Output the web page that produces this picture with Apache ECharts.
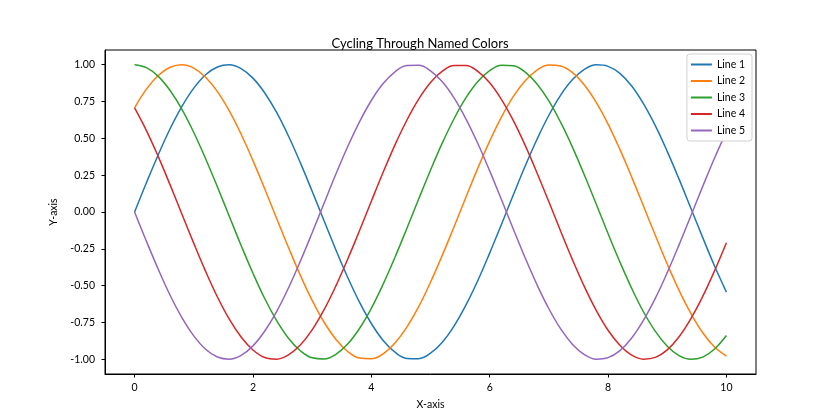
<!DOCTYPE html>
<html><head><meta charset="utf-8">
<script src="https://cdn.jsdelivr.net/npm/echarts@6/dist/echarts.min.js"></script>
<style>html,body{margin:0;padding:0;background:#fff}#c{width:840px;height:420px}</style>
</head><body><div id="c"></div>
<script>
const titleText = 'Cycling Through Named Colors';
const xLabel = 'X-axis';
const yLabel = 'Y-axis';
const seriesNames = ['Line 1','Line 2','Line 3','Line 4','Line 5'];
const xTicks = [0,2,4,6,8,10];
const yTicks = [-1,-0.75,-0.5,-0.25,0,0.25,0.5,0.75,1];
const xs = [0,0.2,0.4,0.6,0.8,1,1.2,1.4,1.6,1.8,2,2.2,2.4,2.6,2.8,3,3.2,3.4,3.6,3.8,4,4.2,4.4,4.6,4.8,5,5.2,5.4,5.6,5.8,6,6.2,6.4,6.6,6.8,7,7.2,7.4,7.6,7.8,8,8.2,8.4,8.6,8.8,9,9.2,9.4,9.6,9.8,10];
const line1 = [0,0.199,0.389,0.565,0.717,0.841,0.932,0.985,1.000,0.974,0.909,0.808,0.676,0.516,0.335,0.141,-0.058,-0.256,-0.443,-0.612,-0.757,-0.872,-0.952,-0.994,-0.996,-0.959,-0.884,-0.773,-0.631,-0.465,-0.279,-0.083,0.117,0.312,0.494,0.657,0.794,0.899,0.968,0.999,0.989,0.941,0.855,0.734,0.585,0.412,0.223,0.025,-0.174,-0.367,-0.544];
const line2 = [0.707,0.834,0.927,0.983,1.000,0.977,0.915,0.817,0.686,0.528,0.349,0.156,-0.044,-0.241,-0.429,-0.600,-0.747,-0.864,-0.947,-0.992,-0.997,-0.963,-0.890,-0.782,-0.643,-0.477,-0.293,-0.098,0.102,0.298,0.481,0.646,0.785,0.892,0.964,0.998,0.991,0.946,0.862,0.744,0.597,0.425,0.237,0.039,-0.160,-0.353,-0.532,-0.689,-0.820,-0.917,-0.978];
const line3 = [1.000,0.980,0.921,0.825,0.697,0.540,0.362,0.170,-0.029,-0.227,-0.416,-0.589,-0.737,-0.857,-0.942,-0.990,-0.998,-0.967,-0.897,-0.791,-0.654,-0.490,-0.307,-0.112,0.088,0.284,0.469,0.635,0.776,0.886,0.960,0.997,0.993,0.950,0.869,0.754,0.608,0.439,0.251,0.054,-0.146,-0.339,-0.519,-0.679,-0.811,-0.911,-0.975,-1.000,-0.985,-0.930,-0.839];
const line4 = [0.707,0.553,0.376,0.184,-0.015,-0.213,-0.403,-0.577,-0.728,-0.849,-0.937,-0.988,-0.999,-0.970,-0.903,-0.800,-0.665,-0.503,-0.321,-0.127,0.073,0.270,0.456,0.623,0.766,0.879,0.956,0.995,0.995,0.955,0.877,0.763,0.620,0.452,0.265,0.069,-0.131,-0.325,-0.507,-0.668,-0.803,-0.905,-0.972,-0.999,-0.987,-0.936,-0.847,-0.724,-0.573,-0.399,-0.209];
const line5 = [0,-0.199,-0.389,-0.565,-0.717,-0.841,-0.932,-0.985,-1.000,-0.974,-0.909,-0.808,-0.676,-0.516,-0.335,-0.141,0.058,0.256,0.443,0.612,0.757,0.872,0.952,0.994,0.996,0.959,0.884,0.773,0.631,0.465,0.279,0.083,-0.117,-0.312,-0.494,-0.657,-0.794,-0.899,-0.968,-0.999,-0.989,-0.941,-0.855,-0.734,-0.585,-0.412,-0.223,-0.025,0.174,0.367,0.544];
const allLines = [line1,line2,line3,line4,line5];
const colors = ['#1f77b4','#ff7f0e','#2ca02c','#d62728','#9467bd'];
const FONT = 'Lato';

const chart = echarts.init(document.getElementById('c'), null, {renderer:'canvas'});
chart.setOption({
  animation:false,
  backgroundColor:'#fff',
  title:{text:titleText,left:'center',top:32,textStyle:{fontFamily:FONT,fontSize:13,fontWeight:'normal',color:'#000'}},
  legend:{
    data:seriesNames, orient:'vertical', right:88, top:54,
    itemWidth:21, itemHeight:2, itemGap:5.5, icon:'rect',
    padding:[5,7,5,4],
    borderColor:'#d0d0d0', borderWidth:1, borderRadius:3, backgroundColor:'#fff',
    textStyle:{fontFamily:FONT,fontSize:10.5,color:'#000'}
  },
  grid:{left:105,right:84,top:50,bottom:46,show:true,borderColor:'#000',borderWidth:1},
  xAxis:{
    type:'value',min:-0.5,max:10.5,
    name:xLabel,nameLocation:'middle',nameGap:25,
    nameTextStyle:{fontFamily:FONT,fontSize:10.5,color:'#000'},
    axisLine:{show:true,onZero:false,lineStyle:{color:'#000',width:1}},
    axisTick:{show:true,length:3.5,lineStyle:{color:'#000'},customValues:xTicks},
    axisLabel:{fontFamily:FONT,fontSize:10.5,color:'#000',margin:8,customValues:xTicks},
    splitLine:{show:false}
  },
  yAxis:{
    type:'value',min:-1.1,max:1.1,
    name:yLabel,nameLocation:'middle',nameGap:38,
    nameTextStyle:{fontFamily:FONT,fontSize:10.5,color:'#000'},
    axisLine:{show:true,onZero:false,lineStyle:{color:'#000',width:1}},
    axisTick:{show:true,length:3.5,lineStyle:{color:'#000'},customValues:yTicks},
    axisLabel:{fontFamily:FONT,fontSize:10.5,color:'#000',margin:10,customValues:yTicks,formatter:v=>v.toFixed(2)},
    splitLine:{show:false}
  },
  series: allLines.map((ys,i)=>({
    name:seriesNames[i], type:'line', showSymbol:false, smooth:0.4,
    data: xs.map((x,j)=>[x,ys[j]]),
    itemStyle:{color:colors[i]},
    lineStyle:{color:colors[i],width:1.5}
  }))
});
</script></body></html>
